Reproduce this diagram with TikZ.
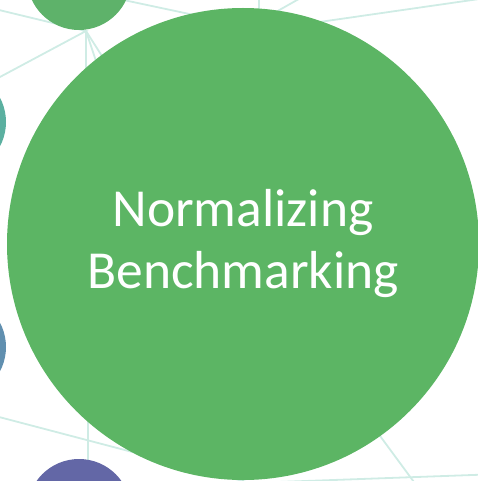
\documentclass[tikz,border=0pt]{standalone}
\usepackage{fontspec}
\setmainfont{Carlito}
\usepackage{tikz}
\usetikzlibrary{backgrounds}

\definecolor{leafgreen}{HTML}{5CB564}
\definecolor{topgreen}{HTML}{5EB26A}
\definecolor{tealish}{HTML}{5BB0A0}
\definecolor{steelish}{HTML}{608FAF}
\definecolor{violetish}{HTML}{6367A6}
\definecolor{linkcol}{HTML}{CFECE5}

\begin{document}
\begin{tikzpicture}[
  x=1pt,y=-1pt,
  bubble/.style={circle,fill=#1,draw=none,inner sep=0pt,minimum size=104pt},
  link/.style={draw=linkcol,line width=1.8pt},
]
\useasboundingbox (0,0) rectangle (477,481);

\node[bubble=leafgreen,minimum size=472pt,text=white,align=center,
      font=\fontsize{53.5}{62}\selectfont] (norm) at (243,244)
  {Normalizing\\Benchmarking};
\node[bubble=topgreen] (top) at (79,-22) {};
\node[bubble=tealish] (teal) at (-46,122) {};
\node[bubble=steelish] (steel) at (-46,347) {};
\node[bubble=violetish] (violet) at (79,511) {};

% network behind the bubbles
\coordinate (hub) at (86,31);
\coordinate (nw) at (-30,3);
\coordinate (wl) at (-30,93);
\coordinate (in1) at (86,200);
\coordinate (in2) at (130,163);
\coordinate (in3) at (160,147);
\coordinate (ta) at (100,-5);
\coordinate (tb) at (260,29);
\coordinate (tc) at (259,-10);
\coordinate (td) at (259,50);
\coordinate (te) at (320,-13);
\coordinate (tf) at (260,21);
\coordinate (tg) at (250,32);
\coordinate (th) at (500,-4);
\coordinate (ba) at (-20,412);
\coordinate (bb) at (300,496);
\coordinate (bc) at (88,380);
\coordinate (bd) at (88,520);
\coordinate (be) at (330,368);
\coordinate (bf) at (425,497);
\coordinate (bg) at (250,483);
\coordinate (bh) at (500,474);

\begin{pgfonlayer}{background}
\draw[link] (nw) -- (hub) -- (wl);
\draw[link] (hub) -- (in1);
\draw[link] (hub) -- (in2);
\draw[link] (hub) -- (in3);
\draw[link] (ta) -- (tb);
\draw[link] (tc) -- (td);
\draw[link] (te) -- (tf);
\draw[link] (tg) -- (th);
\draw[link] (ba) -- (bb);
\draw[link] (bc) -- (bd);
\draw[link] (be) -- (bf);
\draw[link] (bg) -- (bh);
\end{pgfonlayer}
\end{tikzpicture}
\end{document}
